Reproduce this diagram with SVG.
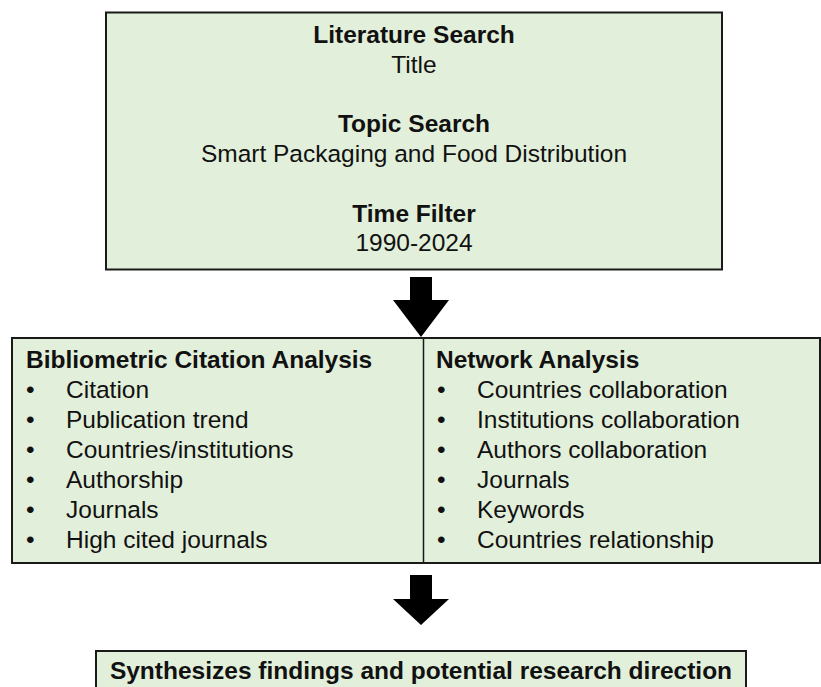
<svg xmlns="http://www.w3.org/2000/svg" width="821" height="687" viewBox="0 0 821 687">
<style>
.box{fill:#e2efda;stroke:#1a1a1a;stroke-width:2}
.div{stroke:#1a1a1a;stroke-width:1.5}
text{font-family:"Liberation Sans",Arial,sans-serif;font-size:24.5px;fill:#111}
.b{font-weight:bold}
.c{text-anchor:middle}
.arrow{fill:#000}
</style>
<rect width="821" height="687" fill="#fff"/>
<g id="search">
<rect class="box" x="106" y="12.5" width="616" height="257"/>
<text class="b c" x="414" y="43">Literature Search</text>
<text class="c" x="414" y="73">Title</text>
<text class="b c" x="414" y="132">Topic Search</text>
<text class="c" x="414" y="162">Smart Packaging and Food Distribution</text>
<text class="b c" x="414" y="222">Time Filter</text>
<text class="c" x="414" y="251">1990-2024</text>
</g>
<g id="analysis">
<rect class="box" x="12" y="338" width="808" height="225"/>
<line class="div" x1="423.5" y1="338" x2="423.5" y2="563"/>
<g id="bibliometric">
<text class="b" x="26" y="368">Bibliometric Citation Analysis</text>
<text x="26" y="398">•</text><text x="66" y="398">Citation</text>
<text x="26" y="428">•</text><text x="66" y="428">Publication trend</text>
<text x="26" y="458">•</text><text x="66" y="458">Countries/institutions</text>
<text x="26" y="488">•</text><text x="66" y="488">Authorship</text>
<text x="26" y="518">•</text><text x="66" y="518">Journals</text>
<text x="26" y="548">•</text><text x="66" y="548">High cited journals</text>
</g>
<g id="network">
<text class="b" x="436" y="368">Network Analysis</text>
<text x="437" y="398">•</text><text x="477" y="398">Countries collaboration</text>
<text x="437" y="428">•</text><text x="477" y="428">Institutions collaboration</text>
<text x="437" y="458">•</text><text x="477" y="458">Authors collaboration</text>
<text x="437" y="488">•</text><text x="477" y="488">Journals</text>
<text x="437" y="518">•</text><text x="477" y="518">Keywords</text>
<text x="437" y="548">•</text><text x="477" y="548">Countries relationship</text>
</g>
</g>
<g id="synthesis">
<rect class="box" x="96" y="651" width="650" height="50"/>
<text class="b c" x="421" y="679">Synthesizes findings and potential research direction</text>
</g>
<g id="connectors">
<polygon class="arrow" points="410,277 432,277 432,300 449,300 421,337 393,300 410,300"/>
<polygon class="arrow" points="410,575 432,575 432,599 449,599 421,625 393,599 410,599"/>
</g>
</svg>
